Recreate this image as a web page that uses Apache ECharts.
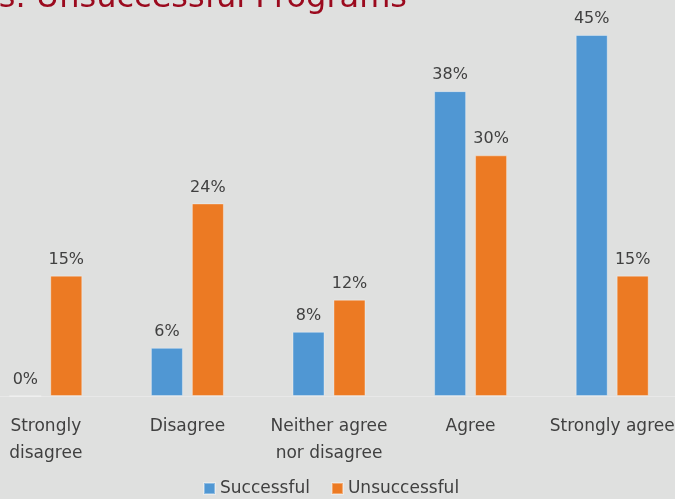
<!DOCTYPE html>
<html>
<head>
<meta charset="utf-8">
<script src="https://cdn.jsdelivr.net/npm/echarts@6/dist/echarts.min.js"></script>
<style>
  html, body { margin: 0; padding: 0; background: #dfe0df; }
  #chart { width: 675px; height: 499px; }
</style>
</head>
<body>
<div id="chart"></div>
<script>
// Survey responses by program outcome (percent of respondents)
var categories = ['Strongly\ndisagree', 'Disagree', 'Neither agree\nnor disagree', 'Agree', 'Strongly agree'];
var successful = [0, 6, 8, 38, 45];
var unsuccessful = [15, 24, 12, 30, 15];
var seriesNames = ['Successful', 'Unsuccessful'];
var titleText = 'Successful vs. Unsuccessful Programs';

var FONT = 'DejaVu Sans';
var TEXT = '#404040';

var chart = echarts.init(document.getElementById('chart'), null, { renderer: 'canvas' });

function barSeries(name, data, color) {
  return {
    name: name,
    type: 'bar',
    data: data,
    barWidth: 32,
    barGap: '28%',
    itemStyle: { color: color, borderColor: 'rgba(255,255,255,0.35)', borderWidth: 1 },
    label: {
      show: true,
      position: 'top',
      distance: 8,
      formatter: '{c}%',
      color: TEXT,
      fontFamily: FONT,
      fontSize: 16
    }
  };
}

chart.setOption({
  backgroundColor: '#dfe0df',
  animation: false,
  graphic: [{
    type: 'text',
    right: 268,
    top: -17,
    style: {
      text: titleText,
      fill: '#9b0a1e',
      font: '32px "DejaVu Sans"'
    }
  }],
  legend: {
    data: seriesNames,
    bottom: -3,
    left: 198,
    padding: 5,
    itemWidth: 11,
    itemHeight: 11,
    itemGap: 21,
    icon: 'rect',
    textStyle: { color: TEXT, fontFamily: FONT, fontSize: 17 }
  },
  grid: {
    left: -25, width: 708, top: 35, bottom: 103,
    containLabel: false,
    outerBoundsMode: 'none'
  },
  xAxis: {
    type: 'category',
    data: categories,
    axisLine: { show: true, lineStyle: { color: '#e8e8e8', width: 1 } },
    axisTick: { show: false },
    axisLabel: {
      color: TEXT,
      fontFamily: FONT,
      fontSize: 17,
      lineHeight: 27,
      margin: 17,
      interval: 0
    }
  },
  yAxis: {
    type: 'value',
    min: 0,
    max: 45,
    show: false,
    splitLine: { show: false }
  },
  series: [
    barSeries(seriesNames[0], successful, '#5097d3'),
    barSeries(seriesNames[1], unsuccessful, '#ec7a23')
  ]
});
</script>
</body>
</html>
